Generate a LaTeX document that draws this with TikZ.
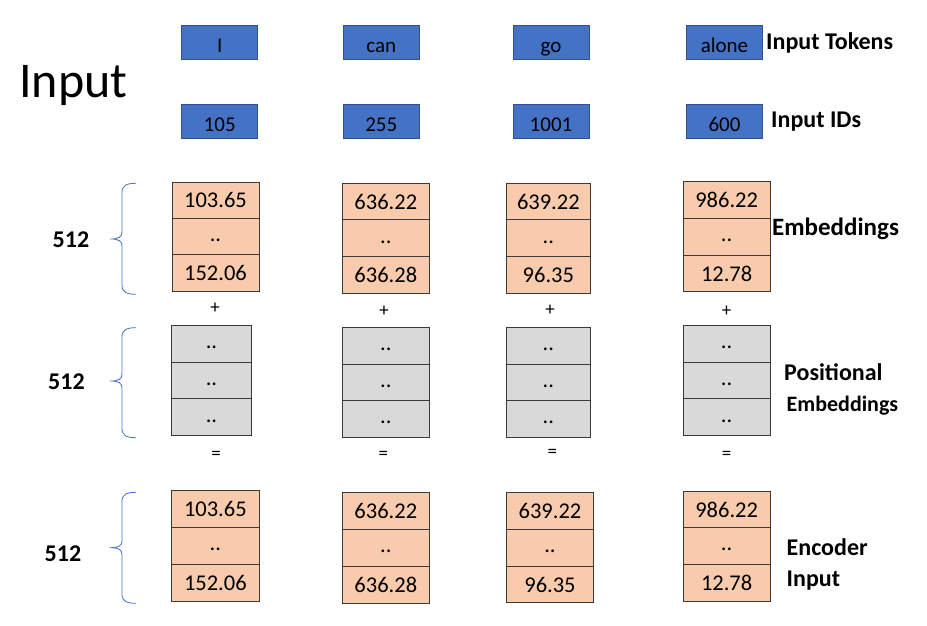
\documentclass[tikz,border=0pt]{standalone}
\usepackage{fontspec}
\setmainfont{Carlito}
\definecolor{tokblue}{HTML}{4472C4}
\definecolor{tokedge}{HTML}{2F528F}
\definecolor{embfill}{HTML}{F8CBAD}
\definecolor{posfill}{HTML}{D9D9D9}
\definecolor{celledge}{HTML}{3A3A3A}
\definecolor{bracecol}{HTML}{4472C4}
\tikzset{
  tokbox/.style={draw=tokedge, line width=0.9pt, fill=tokblue, inner sep=0pt,
    minimum width=76pt, minimum height=34pt, text height=27.5pt, text depth=6.5pt,
    font=\fontsize{21}{24}\selectfont},
  cellbox/.style={draw=celledge, line width=1pt, inner sep=0pt, text height=15.5pt, text depth=0pt,
    font=\fontsize{22.5}{26}\selectfont},
  embcell/.style={cellbox, fill=embfill},
  poscell/.style={cellbox, fill=posfill},
  rowlabel/.style={anchor=base west, inner sep=0pt, font=\fontsize{24}{28}\selectfont\bfseries},
  dimlabel/.style={anchor=base west, inner sep=0pt, font=\fontsize{24}{28}\selectfont\bfseries},
  opsign/.style={inner sep=0pt, font=\fontsize{19}{22}\selectfont},
  bracepath/.style={draw=bracecol, line width=0.8pt},
}
\newcommand\dd{\raisebox{3pt}{..}}
% name, xl, xr, ytop, ybot, style, t1, t2, t3
\newcommand\cellcol[9]{%
  \pgfmathsetmacro\ccx{(#2+#3)/2}%
  \pgfmathsetmacro\ccw{#3-#2}%
  \pgfmathsetmacro\cch{(#5-#4)/3}%
  \pgfmathsetmacro\ccya{#4+\cch/2}%
  \pgfmathsetmacro\ccyb{#4+\cch*1.5}%
  \pgfmathsetmacro\ccyc{#4+\cch*2.5}%
  \node[#6, minimum width=\ccw pt, minimum height=\cch pt] (#1a) at (\ccx,\ccya) {#7};
  \node[#6, minimum width=\ccw pt, minimum height=\cch pt] (#1b) at (\ccx,\ccyb) {#8};
  \node[#6, minimum width=\ccw pt, minimum height=\cch pt] (#1c) at (\ccx,\ccyc) {#9};
}
\newcommand\leftbrace[3]{% top, bottom, tip y
  \draw[bracepath] (136,#1) .. controls (127,#1) and (122,{#1+2}) .. (122,{#1+9})
    -- (122,{#3-7}) .. controls (122,{#3-2}) and (119,#3) .. (110,#3)
    .. controls (119,#3) and (122,{#3+2}) .. (122,{#3+7})
    -- (122,{#2-9}) .. controls (122,{#2-2}) and (127,#2) .. (136,#2);
}
\begin{document}
\begin{tikzpicture}[x=1pt,y=-1pt]
\useasboundingbox (0,0) rectangle (927,626);
\fill[white] (0,0) rectangle (927,626);

% title
\node[anchor=base west, inner sep=0pt, font=\fontsize{50}{56}\selectfont] (title) at (19,97) {Input};

% tokens
\node[tokbox] (tok1) at (219.7,42.5) {I};
\node[tokbox] (tok2) at (381.3,42.5) {can};
\node[tokbox] (tok3) at (551,42.5) {go};
\node[tokbox] (tok4) at (724.5,42.5) {alone};
\node[rowlabel] (ltok) at (766,50) {Input Tokens};

% ids
\node[tokbox] (id1) at (219.7,121.3) {105};
\node[tokbox] (id2) at (381.3,121.3) {255};
\node[tokbox] (id3) at (551,121.3) {1001};
\node[tokbox] (id4) at (724.5,121.3) {600};
\node[rowlabel] (lid) at (771,127) {Input IDs};

% embeddings
\cellcol{ea}{172}{259}{182}{291}{embcell}{103.65}{\dd}{152.06}
\cellcol{eb}{342.3}{429.3}{183.3}{293.3}{embcell}{636.22}{\dd}{636.28}
\cellcol{ec}{506.7}{590}{183.3}{293.3}{embcell}{639.22}{\dd}{96.35}
\cellcol{ed}{683.3}{770}{181.7}{291.7}{embcell}{986.22}{\dd}{12.78}
\node[rowlabel, font=\fontsize{25}{29}\selectfont\bfseries] (lemb) at (772,235) {Embeddings};
\leftbrace{183.3}{294.3}{239}
\node[dimlabel] (d1) at (52.5,247.3) {512};

% plus signs
\node[opsign] (p1) at (215,308) {+};
\node[opsign] (p2) at (384,311.7) {+};
\node[opsign] (p3) at (550,310) {+};
\node[opsign] (p4) at (726.7,311.7) {+};

% positional
\cellcol{pa}{171.7}{251.3}{325.3}{435.7}{poscell}{\dd}{\dd}{\dd}
\cellcol{pb}{342.3}{429.3}{327.7}{437}{poscell}{\dd}{\dd}{\dd}
\cellcol{pc}{506.7}{590}{327.7}{437}{poscell}{\dd}{\dd}{\dd}
\cellcol{pd}{683.3}{770}{325.3}{435.7}{poscell}{\dd}{\dd}{\dd}
\node[rowlabel] (lpos1) at (784,380) {Positional};
\node[rowlabel, font=\fontsize{22}{26}\selectfont\bfseries] (lpos2) at (786.5,411.7) {Embeddings};
\leftbrace{327.7}{437.7}{381}
\node[dimlabel] (d2) at (48,389) {512};

% equals signs
\node[opsign] (q1) at (216,455) {=};
\node[opsign] (q2) at (383.3,455) {=};
\node[opsign] (q3) at (552.3,453.3) {=};
\node[opsign] (q4) at (726.7,455) {=};

% encoder input
\cellcol{ia}{171.7}{259}{490.7}{601}{embcell}{103.65}{\dd}{152.06}
\cellcol{ib}{342.3}{429.3}{492.7}{603}{embcell}{636.22}{\dd}{636.28}
\cellcol{ic}{506.7}{593.3}{492.7}{602.7}{embcell}{639.22}{\dd}{96.35}
\cellcol{id}{683.3}{770}{491}{601}{embcell}{986.22}{\dd}{12.78}
\node[rowlabel] (lenc1) at (786.5,555) {Encoder};
\node[rowlabel] (lenc2) at (786.5,586.7) {Input};
\leftbrace{492.3}{603.3}{547.7}
\node[dimlabel] (d3) at (44.5,561.7) {512};
\end{tikzpicture}
\end{document}
